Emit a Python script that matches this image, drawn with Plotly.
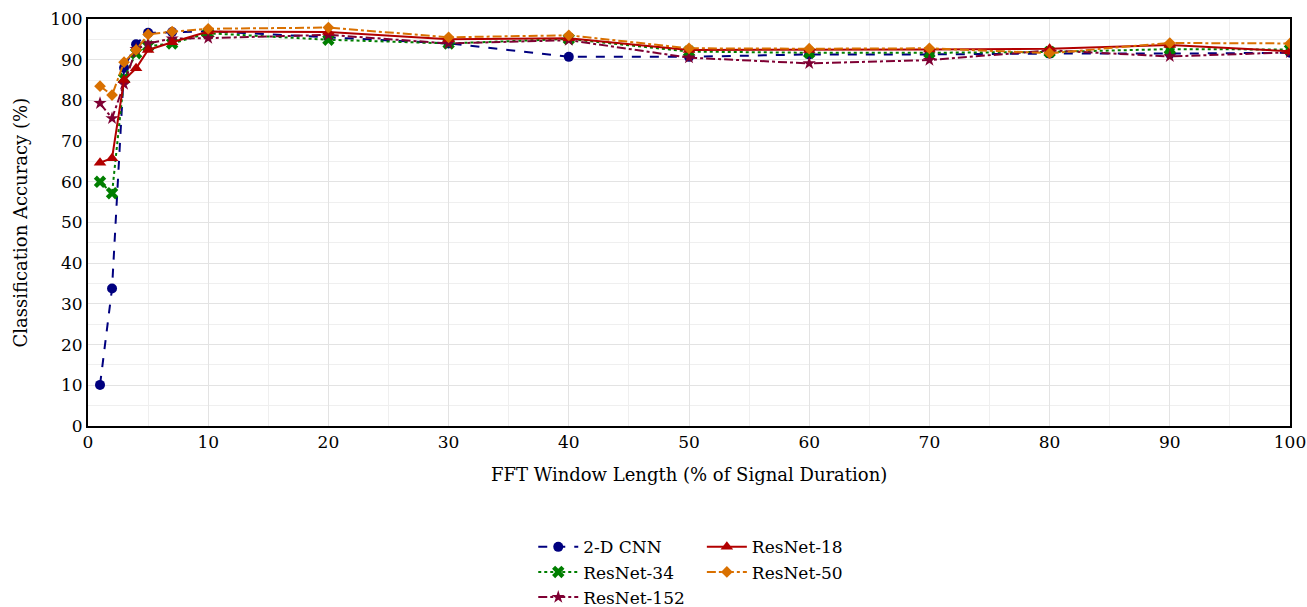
import plotly.graph_objects as go

window_pct = [1, 2, 3, 4, 5, 7, 10, 20, 30, 40, 50, 60, 70, 80, 90, 100]
cnn_2d    = [10.1, 33.8, 88.0, 93.8, 96.6, 96.8, 97.0, 95.5, 94.0, 90.7, 90.7, 91.3, 91.3, 91.5, 91.5, 91.7]
resnet18  = [64.7, 65.8, 85.0, 87.9, 92.4, 94.3, 96.9, 96.8, 95.0, 95.3, 92.4, 92.4, 92.5, 92.7, 93.6, 92.1]
resnet34  = [60.0, 57.2, 85.4, 91.6, 93.3, 94.0, 96.5, 94.9, 94.0, 95.1, 92.0, 91.7, 91.7, 91.9, 92.6, 92.5]
resnet50  = [83.5, 81.3, 89.4, 92.4, 96.2, 96.9, 97.6, 97.9, 95.5, 96.0, 92.8, 92.7, 92.8, 91.6, 94.1, 94.0]
resnet152 = [79.3, 75.6, 84.0, 92.6, 94.0, 95.2, 95.3, 96.1, 94.0, 94.8, 90.5, 89.1, 89.9, 92.3, 90.8, 91.8]

x_ticks = list(range(0, 101, 10))
y_ticks = list(range(0, 101, 10))

FONT = "DejaVu Serif"

series = [
    ("2-D CNN", cnn_2d, "#00007F", "dash", "circle", 10, "legend"),
    ("ResNet-34", resnet34, "#007F00", "dot", "x", 11, "legend"),
    ("ResNet-152", resnet152, "#7F0033", "dashdot", "star", 10, "legend"),
    ("ResNet-18", resnet18, "#B20000", "solid", "triangle-up", 11, "legend2"),
    ("ResNet-50", resnet50, "#D97000", "dashdot", "diamond", 9, "legend2"),
]

fig = go.Figure()
for name, vals, col, dash, sym, sz, lg in series:
    fig.add_trace(go.Scatter(
        x=window_pct, y=vals, name=name, mode="lines+markers",
        line=dict(color=col, dash=dash, width=2),
        marker=dict(symbol=sym, size=sz, color=col),
        legend=lg,
    ))

axis_common = dict(
    showline=True, linecolor="black", linewidth=2, mirror=True,
    showgrid=True, gridcolor="#E3E3E3", gridwidth=1,
    minor=dict(showgrid=True, gridcolor="#EFEFEF", gridwidth=1, dtick=5),
    zeroline=False, ticks="", automargin=False,
    tickfont=dict(family=FONT, size=17, color="black"),
)

fig.update_xaxes(range=[0, 100], tickvals=x_ticks, ticktext=[str(v) for v in x_ticks],
                 **axis_common)
fig.update_yaxes(range=[0, 100], tickvals=y_ticks, ticktext=[str(v) for v in y_ticks],
                 **axis_common)

title_font = dict(family=FONT, size=18, color="black")
fig.add_annotation(text="FFT Window Length (% of Signal Duration)", xref="paper", yref="paper",
                   x=0.5, y=(426 - 474) / 407, xanchor="center", yanchor="middle",
                   showarrow=False, font=title_font)
fig.add_annotation(text="Classification Accuracy (%)", xref="paper", yref="paper",
                   x=(20 - 88) / 1202, y=0.5, xanchor="center", yanchor="middle", textangle=-90,
                   showarrow=False, font=title_font)

leg_common = dict(orientation="v", yanchor="top", xanchor="left",
                  xref="container", yref="container",
                  font=dict(family=FONT, size=17, color="black"),
                  bgcolor="rgba(0,0,0,0)", itemwidth=40, tracegroupgap=0)
fig.update_layout(
    width=1307, height=607,
    margin=dict(l=88, r=17, t=19, b=181, autoexpand=False),
    plot_bgcolor="white", paper_bgcolor="white",
    legend=dict(x=0.408, y=0.128, **leg_common),
    legend2=dict(x=0.537, y=0.128, **leg_common),
)

fig.write_html("out.html")
